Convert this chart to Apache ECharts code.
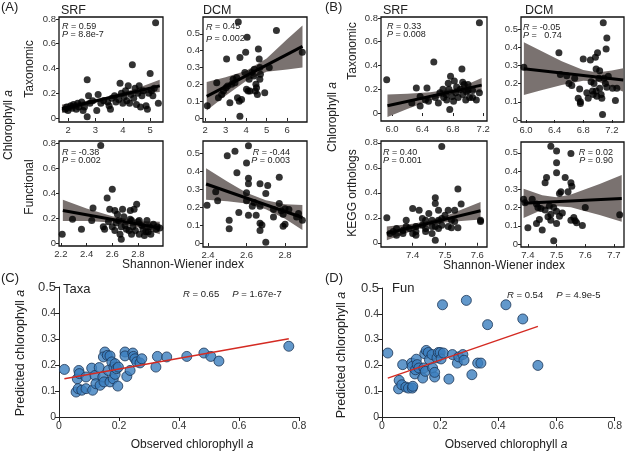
<!DOCTYPE html>
<html>
<head>
<meta charset="utf-8">
<script src="https://cdn.jsdelivr.net/npm/echarts@6/dist/echarts.min.js"></script>
<style>html,body{margin:0;padding:0;background:#fff}#c{width:625px;height:451px}</style>
</head>
<body>
<div id="c"></div>
<script>
// ---------------- DATA ----------------
// (A) Taxonomic SRF
const aSrfTax = [[1.9,0.07],[1.95,0.09],[2.0,0.06],[2.1,0.10],[2.15,0.08],[2.2,0.11],[2.3,0.07],[2.35,0.12],[2.4,0.09],[2.5,0.13],[2.55,0.06],[2.6,0.09],[2.7,0.01],[2.7,0.31],[2.75,0.18],[2.8,0.12],[2.9,0.14],[3.05,0.06],[3.1,0.19],[3.2,0.12],[3.3,0.14],[3.45,0.13],[3.5,0.10],[3.55,0.07],[3.6,0.16],[3.7,0.18],[3.75,0.13],[3.85,0.15],[3.9,0.28],[3.95,0.20],[4.0,0.12],[4.05,0.17],[4.1,0.22],[4.15,0.14],[4.2,0.26],[4.25,0.12],[4.3,0.19],[4.35,0.43],[4.4,0.16],[4.45,0.24],[4.5,0.11],[4.55,0.20],[4.6,0.26],[4.65,0.09],[4.7,0.18],[4.75,0.22],[4.85,0.10],[4.9,0.07],[4.95,0.20],[5.0,0.36],[5.05,0.22],[5.1,0.18],[5.15,0.24],[5.2,0.77],[5.3,0.12]];
const aSrfTaxFit = [[1.78,0.075],[5.35,0.26]];
const aSrfTaxBandX = [1.78,2.5,3.5,4.5,5.35];
const aSrfTaxBandHi = [0.11,0.132,0.176,0.238,0.31];
const aSrfTaxBandLo = [0.04,0.092,0.152,0.194,0.21];
// (A) Taxonomic DCM
const aDcmTax = [[2.11,0.073],[2.57,0.21],[2.65,0.12],[2.81,0.14],[3.02,0.18],[3.05,0.35],[3.21,0.09],[3.37,0.23],[3.46,0.21],[3.54,0.24],[3.62,0.57],[3.58,0.12],[3.70,0.36],[3.67,0.10],[3.78,0.11],[3.70,0.01],[3.94,0.27],[4.02,0.17],[4.05,0.48],[3.98,0.39],[4.19,0.16],[4.15,0.23],[4.27,0.27],[4.38,0.25],[4.48,0.20],[4.51,0.18],[4.55,0.14],[4.6,0.41],[4.64,0.35],[4.67,0.30],[4.67,0.23],[4.91,0.15],[5.13,0.30],[5.48,0.52],[6.74,0.39],[2.9,0.16],[3.3,0.20],[3.1,0.19],[4.1,0.16],[4.45,0.16],[4.7,0.26],[4.4,0.29]];
const aDcmTaxFit = [[2.08,0.128],[6.75,0.425]];
const aDcmTaxBandX = [2.08,3.0,4.0,5.0,6.0,6.75];
const aDcmTaxBandHi = [0.214,0.242,0.28,0.354,0.468,0.55];
const aDcmTaxBandLo = [0.044,0.132,0.22,0.274,0.288,0.30];
// (A) Functional SRF
const aSrfFun = [[2.21,0.07],[2.29,0.19],[2.36,0.11],[2.45,0.28],[2.44,0.18],[2.51,0.78],[2.56,0.36],[2.6,0.43],[2.58,0.27],[2.53,0.13],[2.54,0.11],[2.57,0.17],[2.6,0.13],[2.62,0.26],[2.64,0.23],[2.65,0.18],[2.66,0.07],[2.67,0.03],[2.68,0.27],[2.69,0.21],[2.7,0.14],[2.74,0.26],[2.75,0.18],[2.76,0.13],[2.77,0.27],[2.79,0.31],[2.78,0.10],[2.8,0.17],[2.81,0.07],[2.83,0.14],[2.84,0.11],[2.86,0.09],[2.87,0.18],[2.89,0.13],[2.9,0.07],[2.92,0.15],[2.94,0.11],[2.95,0.13],[2.63,0.16],[2.67,0.13],[2.73,0.10],[2.75,0.07],[2.81,0.18],[2.85,0.06],[2.74,0.19],[2.97,0.12],[2.88,0.09],[2.71,0.11],[2.62,0.10]];
const aSrfFunFit = [[2.215,0.26],[2.97,0.12]];
const aSrfFunBandX = [2.215,2.4,2.6,2.8,2.97];
const aSrfFunBandHi = [0.346,0.276,0.214,0.177,0.17];
const aSrfFunBandLo = [0.176,0.176,0.164,0.127,0.07];
// (A) Functional DCM
const aDcmFun = [[2.395,0.21],[2.44,0.285],[2.45,0.235],[2.50,0.485],[2.51,0.127],[2.51,0.08],[2.54,0.51],[2.55,0.39],[2.56,0.17],[2.6,0.28],[2.6,0.235],[2.6,0.445],[2.61,0.36],[2.61,0.33],[2.61,0.54],[2.61,0.155],[2.63,0.205],[2.64,0.225],[2.65,0.155],[2.67,0.33],[2.67,0.205],[2.67,0.11],[2.68,0.10],[2.67,0.07],[2.7,0.005],[2.7,0.275],[2.71,0.32],[2.74,0.145],[2.77,0.365],[2.77,0.22],[2.78,0.18],[2.79,0.16],[2.80,0.19],[2.79,0.093],[2.8,0.105],[2.82,0.187],[2.86,0.145],[2.87,0.164],[2.89,0.127],[2.74,0.187]];
const aDcmFunFit = [[2.39,0.328],[2.89,0.142]];
const aDcmFunBandX = [2.39,2.5,2.6,2.7,2.8,2.89];
const aDcmFunBandHi = [0.416,0.342,0.28,0.238,0.215,0.212];
const aDcmFunBandLo = [0.24,0.232,0.22,0.188,0.135,0.072];
// (B) Taxonomic SRF
const bSrfTax = [[5.93,0.28],[6.32,0.21],[6.26,0.084],[6.37,0.14],[6.37,0.06],[6.46,0.21],[6.44,0.11],[6.48,0.10],[6.55,0.43],[6.57,0.13],[6.61,0.084],[6.63,0.17],[6.67,0.20],[6.68,0.13],[6.71,0.155],[6.72,0.11],[6.74,0.25],[6.75,0.20],[6.76,0.03],[6.77,0.31],[6.79,0.14],[6.81,0.10],[6.82,0.27],[6.84,0.17],[6.85,0.22],[6.87,0.13],[6.90,0.20],[6.92,0.37],[6.93,0.155],[6.95,0.24],[6.97,0.11],[6.98,0.18],[7.0,0.24],[6.93,0.26],[7.0,0.19],[7.06,0.19],[7.02,0.13],[7.06,0.13],[7.11,0.11],[7.15,0.17],[7.15,0.76]];
const bSrfTaxFit = [[5.94,0.062],[7.18,0.235]];
const bSrfTaxBandX = [5.94,6.2,6.5,6.8,7.0,7.18];
const bSrfTaxBandHi = [0.157,0.163,0.175,0.202,0.245,0.295];
const bSrfTaxBandLo = [-0.033,0.033,0.105,0.162,0.175,0.175];
// (B) Taxonomic DCM
const bDcmTax = [[5.97,0.29],[6.46,0.37],[6.48,0.25],[6.57,0.243],[6.6,0.20],[6.64,0.19],[6.68,0.23],[6.73,0.12],[6.75,0.17],[6.76,0.09],[6.76,0.10],[6.80,0.335],[6.85,0.15],[6.87,0.12],[6.90,0.33],[6.91,0.21],[6.93,0.16],[6.94,0.14],[6.95,0.20],[6.97,0.345],[6.98,0.16],[6.99,0.13],[7.0,0.37],[7.02,0.23],[7.03,0.175],[7.03,0.27],[7.05,0.14],[7.06,0.12],[7.07,0.03],[7.08,0.535],[7.09,0.23],[7.11,0.20],[7.12,0.39],[7.13,0.45],[7.13,0.18],[7.15,0.24],[7.21,0.175],[7.25,0.107],[7.27,0.175],[6.98,0.28]];
const bDcmTaxFit = [[5.97,0.282],[7.36,0.22]];
const bDcmTaxBandX = [5.97,6.2,6.5,6.8,7.0,7.2,7.36];
const bDcmTaxBandHi = [0.427,0.382,0.323,0.275,0.261,0.272,0.285];
const bDcmTaxBandLo = [0.137,0.162,0.193,0.215,0.211,0.182,0.155];
// (B) KEGG SRF
const bSrfFun = [[7.32,0.20],[7.33,0.075],[7.34,0.09],[7.35,0.115],[7.35,0.06],[7.37,0.10],[7.37,0.075],[7.38,0.13],[7.38,0.18],[7.39,0.115],[7.40,0.075],[7.40,0.275],[7.41,0.13],[7.41,0.09],[7.41,0.06],[7.42,0.26],[7.43,0.195],[7.43,0.14],[7.44,0.115],[7.44,0.18],[7.44,0.09],[7.45,0.235],[7.46,0.13],[7.46,0.075],[7.46,0.18],[7.47,0.13],[7.47,0.36],[7.47,0.315],[7.48,0.26],[7.47,0.02],[7.48,0.18],[7.48,0.115],[7.49,0.14],[7.49,0.77],[7.49,0.195],[7.50,0.22],[7.51,0.13],[7.51,0.26],[7.52,0.18],[7.52,0.12],[7.53,0.26],[7.53,0.17],[7.54,0.43],[7.54,0.12],[7.55,0.31],[7.61,0.18],[7.61,0.17]];
const bSrfFunFit = [[7.32,0.075],[7.61,0.256]];
const bSrfFunBandX = [7.32,7.4,7.45,7.5,7.55,7.61];
const bSrfFunBandHi = [0.13,0.153,0.176,0.212,0.264,0.326];
const bSrfFunBandLo = [0.02,0.097,0.136,0.162,0.174,0.186];
// (B) KEGG DCM
const bDcmFun = [[7.385,0.245],[7.39,0.226],[7.40,0.09],[7.415,0.245],[7.43,0.22],[7.43,0.113],[7.435,0.20],[7.44,0.135],[7.445,0.195],[7.45,0.077],[7.46,0.336],[7.46,0.186],[7.465,0.365],[7.47,0.15],[7.475,0.208],[7.48,0.536],[7.48,0.13],[7.48,0.164],[7.49,0.20],[7.50,0.39],[7.50,0.445],[7.50,0.51],[7.50,0.18],[7.49,0.018],[7.50,0.113],[7.51,0.277],[7.515,0.286],[7.51,0.153],[7.52,0.17],[7.53,0.365],[7.54,0.286],[7.55,0.13],[7.55,0.336],[7.553,0.317],[7.55,0.496],[7.56,0.146],[7.565,0.128],[7.57,0.117],[7.60,0.20],[7.59,0.102],[7.72,0.16]];
const bDcmFunFit = [[7.385,0.223],[7.727,0.25]];
const bDcmFunBandX = [7.385,7.45,7.5,7.55,7.6,7.65,7.727];
const bDcmFunBandHi = [0.303,0.268,0.257,0.271,0.30,0.329,0.378];
const bDcmFunBandLo = [0.143,0.188,0.207,0.201,0.18,0.159,0.122];
// (C) Taxa: observed vs predicted
const cTaxa = [[0.018,0.183],[0.057,0.096],[0.061,0.147],[0.066,0.179],[0.068,0.167],[0.064,0.109],[0.076,0.103],[0.09,0.109],[0.09,0.154],[0.109,0.188],[0.112,0.103],[0.12,0.16],[0.123,0.128],[0.134,0.19],[0.137,0.122],[0.153,0.25],[0.146,0.154],[0.148,0.231],[0.15,0.135],[0.161,0.237],[0.164,0.179],[0.17,0.235],[0.176,0.212],[0.17,0.135],[0.181,0.147],[0.183,0.192],[0.187,0.164],[0.187,0.205],[0.192,0.186],[0.196,0.119],[0.198,0.192],[0.22,0.25],[0.22,0.235],[0.226,0.156],[0.237,0.179],[0.246,0.246],[0.248,0.233],[0.253,0.224],[0.259,0.212],[0.27,0.208],[0.276,0.224],[0.323,0.192],[0.328,0.233],[0.359,0.231],[0.426,0.233],[0.483,0.246],[0.506,0.233],[0.533,0.215],[0.766,0.272]];
const cFit = [[0.018,0.147],[0.766,0.301]];
// (D) Fun: observed vs predicted
const dFun = [[0.02,0.248],[0.059,0.142],[0.057,0.109],[0.068,0.125],[0.071,0.203],[0.082,0.116],[0.091,0.112],[0.102,0.209],[0.104,0.112],[0.104,0.196],[0.106,0.119],[0.113,0.167],[0.118,0.224],[0.115,0.183],[0.121,0.203],[0.127,0.19],[0.14,0.151],[0.144,0.19],[0.147,0.245],[0.149,0.177],[0.152,0.258],[0.159,0.25],[0.163,0.222],[0.172,0.242],[0.174,0.19],[0.181,0.155],[0.181,0.173],[0.189,0.229],[0.194,0.25],[0.2,0.25],[0.203,0.225],[0.208,0.435],[0.211,0.248],[0.23,0.147],[0.242,0.242],[0.259,0.209],[0.264,0.233],[0.278,0.242],[0.282,0.22],[0.29,0.452],[0.309,0.164],[0.329,0.209],[0.34,0.209],[0.363,0.358],[0.426,0.435],[0.484,0.38],[0.536,0.2]];
const dFit = [[0.02,0.151],[0.536,0.351]];

// Tick values
const aSrfTaxXTicks = [2,3,4,5], aSrfTaxYTicks = [0,0.2,0.4,0.6,0.8];
const aDcmTaxXTicks = [2,3,4,5,6], aDcmTaxYTicks = [0,0.1,0.2,0.3,0.4,0.5];
const aSrfFunXTicks = [2.2,2.4,2.6,2.8], aSrfFunYTicks = [0,0.2,0.4,0.6,0.8];
const aDcmFunXTicks = [2.4,2.6,2.8], aDcmFunYTicks = [0,0.1,0.2,0.3,0.4,0.5];
const bSrfTaxXTicks = [6.0,6.4,6.8,7.2], bSrfTaxYTicks = [0,0.2,0.4,0.6,0.8];
const bDcmTaxXTicks = [6.0,6.4,6.8,7.2], bDcmTaxYTicks = [0,0.1,0.2,0.3,0.4,0.5];
const bSrfFunXTicks = [7.4,7.5,7.6], bSrfFunYTicks = [0,0.2,0.4,0.6,0.8];
const bDcmFunXTicks = [7.4,7.5,7.6,7.7], bDcmFunYTicks = [0,0.1,0.2,0.3,0.4,0.5];
const cdXTicks = [0,0.2,0.4,0.6,0.8], cdYTicks = [0,0.1,0.2,0.3,0.4,0.5];

// ---------------- LAYOUT / STYLE ----------------
const FONT = '"Liberation Sans", Arial, Helvetica, sans-serif';
const BAND = '#7a7270';
const panels = [
  {grid:[59,17,104,105], xr:[1.67,5.47], yr:[-0.032,0.816], xt:aSrfTaxXTicks, yt:aSrfTaxYTicks, xd:0, pts:aSrfTax, fit:aSrfTaxFit, bx:aSrfTaxBandX, bh:aSrfTaxBandHi, bl:aSrfTaxBandLo},
  {grid:[203,17,104,105], xr:[1.9,6.97], yr:[-0.024,0.6], xt:aDcmTaxXTicks, yt:aDcmTaxYTicks, xd:0, pts:aDcmTax, fit:aDcmTaxFit, bx:aDcmTaxBandX, bh:aDcmTaxBandHi, bl:aDcmTaxBandLo},
  {grid:[59,141,104,105], xr:[2.185,2.995], yr:[-0.024,0.816], xt:aSrfFunXTicks, yt:aSrfFunYTicks, xd:1, pts:aSrfFun, fit:aSrfFunFit, bx:aSrfFunBandX, bh:aSrfFunBandHi, bl:aSrfFunBandLo},
  {grid:[203,141,104,106], xr:[2.374,2.914], yr:[-0.022,0.567], xt:aDcmFunXTicks, yt:aDcmFunYTicks, xd:1, pts:aDcmFun, fit:aDcmFunFit, bx:aDcmFunBandX, bh:aDcmFunBandHi, bl:aDcmFunBandLo},
  {grid:[381,17,106,104], xr:[5.855,7.25], yr:[-0.067,0.808], xt:bSrfTaxXTicks, yt:bSrfTaxYTicks, xd:1, pts:bSrfTax, fit:bSrfTaxFit, bx:bSrfTaxBandX, bh:bSrfTaxBandHi, bl:bSrfTaxBandLo},
  {grid:[521,17,103,105], xr:[5.93,7.37], yr:[-0.011,0.566], xt:bDcmTaxXTicks, yt:bDcmTaxYTicks, xd:1, pts:bDcmTax, fit:bDcmTaxFit, bx:bDcmTaxBandX, bh:bDcmTaxBandHi, bl:bDcmTaxBandLo},
  {grid:[381,141,106,106], xr:[7.302,7.63], yr:[-0.034,0.814], xt:bSrfFunXTicks, yt:bSrfFunYTicks, xd:1, pts:bSrfFun, fit:bSrfFunFit, bx:bSrfFunBandX, bh:bSrfFunBandHi, bl:bSrfFunBandLo},
  {grid:[521,142,103,105], xr:[7.376,7.735], yr:[-0.016,0.559], xt:bDcmFunXTicks, yt:bDcmFunYTicks, xd:1, pts:bDcmFun, fit:bDcmFunFit, bx:bDcmFunBandX, bh:bDcmFunBandHi, bl:bDcmFunBandLo}
];
const big = [
  {grid:[59,287,240,130], pts:cTaxa, fit:cFit},
  {grid:[382,288,238,129], pts:dFun, fit:dFit}
];

const fmt = d => v => (v === 0 ? '0' : v.toFixed(d));
const grids = [], xAxes = [], yAxes = [], series = [];

panels.forEach((p, i) => {
  grids.push({left:p.grid[0], top:p.grid[1], width:p.grid[2], height:p.grid[3], show:true, borderColor:'#111', borderWidth:1.3, backgroundColor:'transparent'});
  xAxes.push({gridIndex:i, type:'value', min:p.xr[0], max:p.xr[1], splitLine:{show:false}, axisLine:{show:false},
    axisTick:{show:true, length:3, lineStyle:{color:'#222'}, customValues:p.xt},
    axisLabel:{customValues:p.xt, fontSize:9.5, color:'#333', margin:3, fontFamily:FONT, formatter:fmt(p.xd)}});
  yAxes.push({gridIndex:i, type:'value', min:p.yr[0], max:p.yr[1], splitLine:{show:false}, axisLine:{show:false},
    axisTick:{show:true, length:3, lineStyle:{color:'#222'}, customValues:p.yt},
    axisLabel:{customValues:p.yt, fontSize:9.5, color:'#333', margin:3, fontFamily:FONT, formatter:fmt(1)}});
  series.push({type:'custom', xAxisIndex:i, yAxisIndex:i, silent:true, clip:true, z:1,
    data:[[p.bx[0], p.bh[0]]],
    renderItem:(params, api) => {
      const up = p.bx.map((x,k) => api.coord([x, p.bh[k]]));
      const lo = p.bx.map((x,k) => api.coord([x, p.bl[k]])).reverse();
      return {type:'polygon', shape:{points:up.concat(lo)}, style:{fill:BAND}};
    }});
  series.push({type:'line', xAxisIndex:i, yAxisIndex:i, data:p.fit, symbol:'none', silent:true, z:2,
    lineStyle:{color:'#000', width:3}});
  series.push({type:'scatter', xAxisIndex:i, yAxisIndex:i, data:p.pts, symbolSize:7, silent:true, z:3,
    itemStyle:{color:'#000'}});
});

big.forEach((b, j) => {
  const i = panels.length + j;
  grids.push({left:b.grid[0], top:b.grid[1], width:b.grid[2], height:b.grid[3], show:false});
  xAxes.push({gridIndex:i, type:'value', min:0, max:0.8, splitLine:{show:false},
    axisLine:{show:true, lineStyle:{color:'#222', width:1}},
    axisTick:{show:true, length:4, lineStyle:{color:'#222'}, customValues:cdXTicks},
    axisLabel:{customValues:cdXTicks, fontSize:10.5, color:'#333', margin:4, fontFamily:FONT, formatter:fmt(1)}});
  yAxes.push({gridIndex:i, type:'value', min:0, max:0.5, splitLine:{show:false},
    axisLine:{show:true, lineStyle:{color:'#222', width:1}},
    axisTick:{show:true, length:4, lineStyle:{color:'#222'}, customValues:cdYTicks},
    axisLabel:{customValues:cdYTicks, fontSize:10.5, color:'#333', margin:3, fontFamily:FONT,
      formatter: v => v === 0.5 ? '{b|0.5}' : fmt(1)(v), rich:{b:{fontSize:13, color:'#333', fontFamily:FONT}}}});
  series.push({type:'scatter', xAxisIndex:i, yAxisIndex:i, data:b.pts, symbolSize:10, silent:true, z:2,
    itemStyle:{color:'#3b7ebe', borderColor:'#1d3656', borderWidth:1}});
  series.push({type:'line', xAxisIndex:i, yAxisIndex:i, data:b.fit, symbol:'none', silent:true, z:3,
    lineStyle:{color:'#d42a22', width:1.4}});
});

// ---------------- TEXT ----------------
const rich = {i:{fontStyle:'italic', fontFamily:FONT, fontSize:9, color:'#333'}, n:{fontFamily:FONT, fontSize:9, color:'#333'}};
function txt(x, y, text, size, opts) {
  opts = opts || {};
  return {type:'text', x:x, y:y, rotation:opts.rot || 0, silent:true, z:10,
    style:{text:text, font:size + 'px ' + FONT, fill:opts.fill || '#222',
      align:opts.align || 'left', verticalAlign:opts.va || 'middle', rich:opts.rich, lineHeight:opts.lh}};
}
const richBig = size => ({i:{fontStyle:'italic', fontFamily:FONT, fontSize:size, color:'#222'}, n:{fontFamily:FONT, fontSize:size, color:'#222'}});
const stat = (x, y, r, p, align, lh) => txt(x, y, '{i|R}{n| = ' + r + '}\n{i|P}{n| = ' + p + '}', 9, {rich:rich, align:align||'left', va:'top', lh:lh||8.5});
const VERT = Math.PI / 2;
const graphics = [
  txt(1, 7, '(A)', 13), txt(61, 11, 'SRF', 12.5), txt(203, 11, 'DCM', 12.5),
  txt(325, 7, '(B)', 13), txt(383, 11, 'SRF', 12.5), txt(525, 11, 'DCM', 12.5),
  txt(9, 125, '{n|Chlorophyll }{i|a}', 12, {rot:VERT, align:'center', rich:richBig(12)}),
  txt(30, 69, 'Taxonomic', 12, {rot:VERT, align:'center'}),
  txt(30, 187, 'Functional', 12, {rot:VERT, align:'center'}),
  txt(333, 117, '{n|Chlorophyll }{i|a}', 12, {rot:VERT, align:'center', rich:richBig(12)}),
  txt(353, 51, 'Taxonomic', 12, {rot:VERT, align:'center'}),
  txt(353, 193, 'KEGG orthologs', 12, {rot:VERT, align:'center'}),
  txt(183, 265, 'Shannon-Wiener index', 12, {align:'center'}),
  txt(504, 266, 'Shannon-Wiener index', 12, {align:'center'}),
  stat(62, 22, '0.59', '8.8e-7'),
  stat(206, 21, '0.45', '0.002', 'left', 12),
  stat(62, 148, '-0.38', '0.002'),
  stat(290, 148, '-0.44', '0.003', 'right'),
  stat(387, 22, '0.33', '0.008'),
  stat(523, 23, '-0.05', '  0.74'),
  stat(383, 148, '0.40', '0.001'),
  stat(613, 148, '0.02', '0.90', 'right'),
  txt(1, 278, '(C)', 13), txt(325, 278, '(D)', 13),
  txt(63, 289, 'Taxa', 13), txt(392, 288, 'Fun', 13),
  txt(183, 294, '{i|R}{n| = 0.65     }{i|P}{n| = 1.67e-7}', 9, {rich:richBig(9.5)}),
  txt(507, 295, '{i|R}{n| = 0.54     }{i|P}{n| = 4.9e-5}', 9, {rich:richBig(9.5)}),
  txt(21, 353, '{n|Predicted chlorophyll }{i|a}', 12.5, {rot:VERT, align:'center', rich:richBig(12.5)}),
  txt(342, 355, '{n|Predicted chlorophyll }{i|a}', 12.5, {rot:VERT, align:'center', rich:richBig(12.5)}),
  txt(192, 445, '{n|Observed chlorophyll }{i|a}', 12, {align:'center', rich:richBig(12)}),
  txt(506, 445, '{n|Observed chlorophyll }{i|a}', 12, {align:'center', rich:richBig(12)})
];

const chart = echarts.init(document.getElementById('c'), null, {renderer:'canvas'});
chart.setOption({
  animation:false,
  backgroundColor:'#fff',
  textStyle:{fontFamily:FONT},
  grid:grids, xAxis:xAxes, yAxis:yAxes, series:series, graphic:graphics
});
</script>
</body>
</html>
